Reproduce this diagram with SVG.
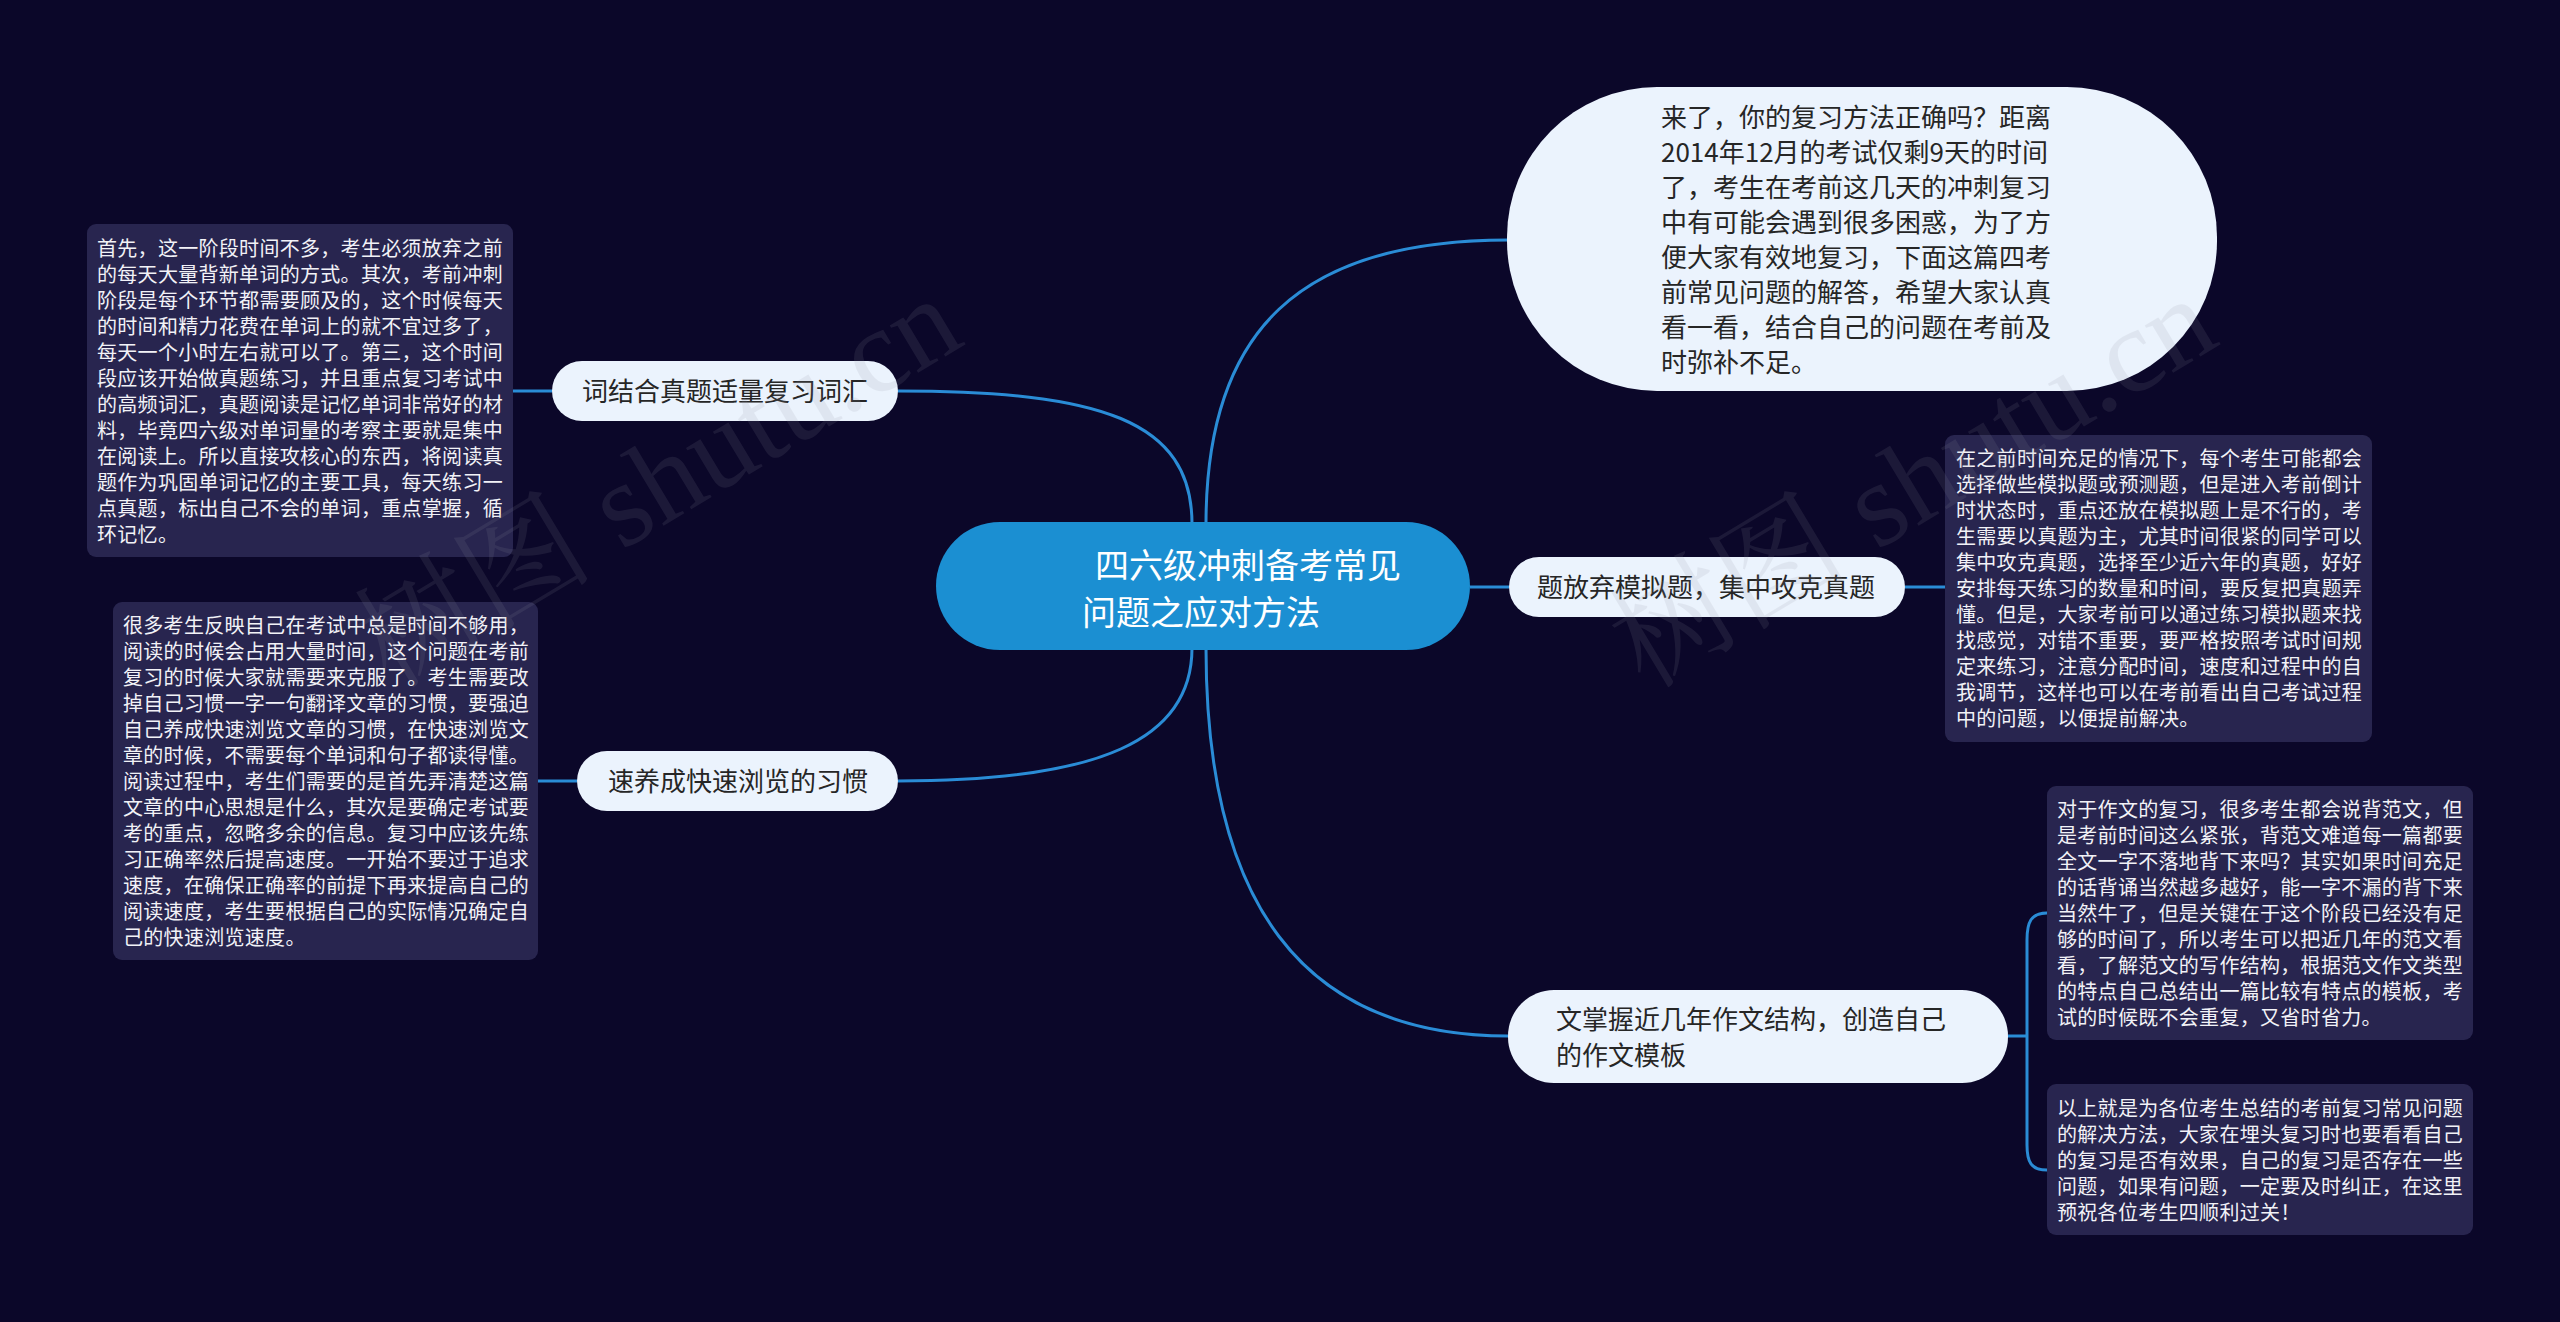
<svg xmlns="http://www.w3.org/2000/svg" width="2560" height="1322" viewBox="0 0 2560 1322">
<style>
.bg{fill:#0b0729}
.desc rect{fill:#28254f}
.desc text{font-family:"Noto Sans CJK SC","Noto Sans",sans-serif;font-size:20px;fill:#f2f2f7;letter-spacing:0.3px}
.sub rect{fill:#ebf3fd}
.sub text{font-family:"Noto Sans CJK SC","Noto Sans",sans-serif;font-size:26px;fill:#262626}
.root rect{fill:#1b8fd2}
.root text{font-family:"Noto Sans CJK SC","Noto Sans",sans-serif;font-size:34px;fill:#ffffff}
.conn path{fill:none;stroke:#2a8cd6;stroke-width:3}
.wm{font-family:"Liberation Serif","Noto Serif CJK SC","Noto Sans CJK SC",serif;font-size:120px;fill:#9090a0;opacity:0.13}
</style>
<rect class="bg" x="0" y="0" width="2560" height="1322"/>

<g id="connectors" class="conn">
  <path d="M1206 524 C1206 330 1300 240 1508 240"/>
  <path d="M1192 524 C1192 420 1100 391 898 391"/>
  <path d="M1192 648 C1192 740 1100 781 898 781"/>
  <path d="M1206 648 C1206 900 1300 1036 1508 1036"/>
  <path d="M1470 587 L1509 587"/>
  <path d="M513 391 L552 391"/>
  <path d="M538 781 L577 781"/>
  <path d="M1905 587 L1945 587"/>
  <path d="M2008 1036 L2027 1036"/>
  <path d="M2047 913 C2031 913 2027 922 2027 940 L2027 1145 C2027 1162 2031 1170 2047 1170"/>
</g>

<g id="root" class="root">
  <rect x="936" y="522" width="534" height="128" rx="64"/>
  <text><tspan x="1095" y="578">四六级冲刺备考常见</tspan><tspan x="1082" y="625">问题之应对方法</tspan></text>
</g>

<g id="intro" class="sub">
  <rect x="1507" y="87" width="710" height="304" rx="150"/>
  <text>
    <tspan x="1661" y="127">来了，你的复习方法正确吗？距离</tspan>
    <tspan x="1661" y="162">2014年12月的考试仅剩9天的时间</tspan>
    <tspan x="1661" y="197">了，考生在考前这几天的冲刺复习</tspan>
    <tspan x="1661" y="232">中有可能会遇到很多困惑，为了方</tspan>
    <tspan x="1661" y="267">便大家有效地复习，下面这篇四考</tspan>
    <tspan x="1661" y="302">前常见问题的解答，希望大家认真</tspan>
    <tspan x="1661" y="337">看一看，结合自己的问题在考前及</tspan>
    <tspan x="1661" y="372">时弥补不足。</tspan>
  </text>
</g>

<g id="topic-vocab" class="sub">
  <rect x="552" y="361" width="346" height="60" rx="30"/>
  <text x="582" y="401">词结合真题适量复习词汇</text>
</g>

<g id="topic-reading" class="sub">
  <rect x="577" y="751" width="321" height="60" rx="30"/>
  <text x="608" y="791">速养成快速浏览的习惯</text>
</g>

<g id="topic-mock" class="sub">
  <rect x="1509" y="557" width="396" height="60" rx="30"/>
  <text x="1537" y="597">题放弃模拟题，集中攻克真题</text>
</g>

<g id="topic-essay" class="sub">
  <rect x="1508" y="990" width="500" height="93" rx="46"/>
  <text><tspan x="1556" y="1029">文掌握近几年作文结构，创造自己</tspan><tspan x="1556" y="1065">的作文模板</tspan></text>
</g>

<g id="desc-vocab" class="desc">
  <rect x="87" y="224" width="426" height="333" rx="9"/>
  <text>
    <tspan x="97" y="256">首先，这一阶段时间不多，考生必须放弃之前</tspan>
    <tspan x="97" y="282">的每天大量背新单词的方式。其次，考前冲刺</tspan>
    <tspan x="97" y="308">阶段是每个环节都需要顾及的，这个时候每天</tspan>
    <tspan x="97" y="334">的时间和精力花费在单词上的就不宜过多了，</tspan>
    <tspan x="97" y="360">每天一个小时左右就可以了。第三，这个时间</tspan>
    <tspan x="97" y="386">段应该开始做真题练习，并且重点复习考试中</tspan>
    <tspan x="97" y="412">的高频词汇，真题阅读是记忆单词非常好的材</tspan>
    <tspan x="97" y="438">料，毕竟四六级对单词量的考察主要就是集中</tspan>
    <tspan x="97" y="464">在阅读上。所以直接攻核心的东西，将阅读真</tspan>
    <tspan x="97" y="490">题作为巩固单词记忆的主要工具，每天练习一</tspan>
    <tspan x="97" y="516">点真题，标出自己不会的单词，重点掌握，循</tspan>
    <tspan x="97" y="542">环记忆。</tspan>
  </text>
</g>

<g id="desc-reading" class="desc">
  <rect x="113" y="602" width="425" height="358" rx="9"/>
  <text>
    <tspan x="123" y="633">很多考生反映自己在考试中总是时间不够用，</tspan>
    <tspan x="123" y="659">阅读的时候会占用大量时间，这个问题在考前</tspan>
    <tspan x="123" y="685">复习的时候大家就需要来克服了。考生需要改</tspan>
    <tspan x="123" y="711">掉自己习惯一字一句翻译文章的习惯，要强迫</tspan>
    <tspan x="123" y="737">自己养成快速浏览文章的习惯，在快速浏览文</tspan>
    <tspan x="123" y="763">章的时候，不需要每个单词和句子都读得懂。</tspan>
    <tspan x="123" y="789">阅读过程中，考生们需要的是首先弄清楚这篇</tspan>
    <tspan x="123" y="815">文章的中心思想是什么，其次是要确定考试要</tspan>
    <tspan x="123" y="841">考的重点，忽略多余的信息。复习中应该先练</tspan>
    <tspan x="123" y="867">习正确率然后提高速度。一开始不要过于追求</tspan>
    <tspan x="123" y="893">速度，在确保正确率的前提下再来提高自己的</tspan>
    <tspan x="123" y="919">阅读速度，考生要根据自己的实际情况确定自</tspan>
    <tspan x="123" y="945">己的快速浏览速度。</tspan>
  </text>
</g>

<g id="desc-mock" class="desc">
  <rect x="1945" y="435" width="427" height="307" rx="9"/>
  <text>
    <tspan x="1956" y="466">在之前时间充足的情况下，每个考生可能都会</tspan>
    <tspan x="1956" y="492">选择做些模拟题或预测题，但是进入考前倒计</tspan>
    <tspan x="1956" y="518">时状态时，重点还放在模拟题上是不行的，考</tspan>
    <tspan x="1956" y="544">生需要以真题为主，尤其时间很紧的同学可以</tspan>
    <tspan x="1956" y="570">集中攻克真题，选择至少近六年的真题，好好</tspan>
    <tspan x="1956" y="596">安排每天练习的数量和时间，要反复把真题弄</tspan>
    <tspan x="1956" y="622">懂。但是，大家考前可以通过练习模拟题来找</tspan>
    <tspan x="1956" y="648">找感觉，对错不重要，要严格按照考试时间规</tspan>
    <tspan x="1956" y="674">定来练习，注意分配时间，速度和过程中的自</tspan>
    <tspan x="1956" y="700">我调节，这样也可以在考前看出自己考试过程</tspan>
    <tspan x="1956" y="726">中的问题，以便提前解决。</tspan>
  </text>
</g>

<g id="desc-essay" class="desc">
  <rect x="2047" y="786" width="426" height="254" rx="9"/>
  <text>
    <tspan x="2057" y="817">对于作文的复习，很多考生都会说背范文，但</tspan>
    <tspan x="2057" y="843">是考前时间这么紧张，背范文难道每一篇都要</tspan>
    <tspan x="2057" y="869">全文一字不落地背下来吗？其实如果时间充足</tspan>
    <tspan x="2057" y="895">的话背诵当然越多越好，能一字不漏的背下来</tspan>
    <tspan x="2057" y="921">当然牛了，但是关键在于这个阶段已经没有足</tspan>
    <tspan x="2057" y="947">够的时间了，所以考生可以把近几年的范文看</tspan>
    <tspan x="2057" y="973">看，了解范文的写作结构，根据范文作文类型</tspan>
    <tspan x="2057" y="999">的特点自己总结出一篇比较有特点的模板，考</tspan>
    <tspan x="2057" y="1025">试的时候既不会重复，又省时省力。</tspan>
  </text>
</g>

<g id="desc-summary" class="desc">
  <rect x="2047" y="1084" width="426" height="151" rx="9"/>
  <text>
    <tspan x="2057" y="1116">以上就是为各位考生总结的考前复习常见问题</tspan>
    <tspan x="2057" y="1142">的解决方法，大家在埋头复习时也要看看自己</tspan>
    <tspan x="2057" y="1168">的复习是否有效果，自己的复习是否存在一些</tspan>
    <tspan x="2057" y="1194">问题，如果有问题，一定要及时纠正，在这里</tspan>
    <tspan x="2057" y="1220">预祝各位考生四顺利过关！</tspan>
  </text>
</g>

<g id="watermark">
  <text class="wm" transform="translate(390 690) rotate(-31)">树图 shutu.cn</text>
  <text class="wm" transform="translate(1645 690) rotate(-31)">树图 shutu.cn</text>
</g>
</svg>
